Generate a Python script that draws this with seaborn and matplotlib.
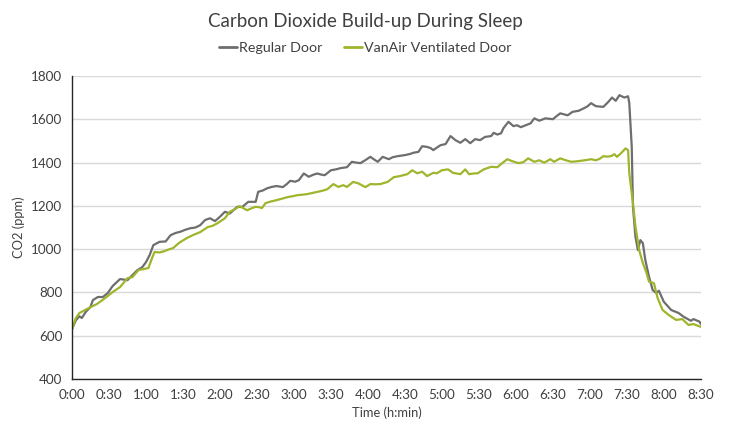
import pandas as pd
import matplotlib
matplotlib.use('Agg')
import matplotlib.pyplot as plt
import seaborn as sns

# Minutes since start and CO2 readings (ppm)
regular_minutes = [0, 3, 6, 8, 11, 15, 17, 21, 25, 29, 33, 39, 45, 49, 53, 57, 60, 63, 66, 71,
                   76, 80, 84, 88, 92, 96, 100, 104, 108, 112, 116, 120, 124, 128, 134, 138, 143, 149, 151, 155,
                   158, 162, 166, 171, 174, 177, 181, 184, 188, 192, 196, 199, 202, 205, 210, 214, 218, 223, 227, 231,
                   234, 238, 242, 245, 248, 252, 257, 260, 264, 270, 274, 277, 281, 284, 288, 291, 293, 296, 299, 303,
                   307, 311, 315, 319, 323, 327, 331, 335, 340, 342, 345, 348, 350, 354, 358, 361, 364, 368, 372, 375,
                   379, 384, 390, 393, 396, 402, 406, 411, 415, 418, 421, 425, 431, 435, 438, 441, 444, 448, 451, 452,
                   454, 455, 457, 459, 461, 463, 465, 468, 471, 474, 476, 480, 486, 492, 496, 502, 504, 509, 510]
regular_co2 = [630, 670, 690, 682, 709, 733, 765, 779, 779, 797, 830, 862, 857, 880, 903, 917, 940, 973, 1019, 1034,
               1036, 1065, 1075, 1081, 1090, 1097, 1100, 1111, 1135, 1143, 1130, 1150, 1173, 1165, 1196, 1195, 1219, 1219, 1265, 1272,
               1281, 1288, 1292, 1287, 1300, 1316, 1312, 1319, 1350, 1335, 1345, 1350, 1345, 1342, 1365, 1369, 1375, 1379, 1404, 1400,
               1398, 1412, 1427, 1415, 1404, 1427, 1416, 1425, 1430, 1435, 1440, 1446, 1450, 1476, 1473, 1467, 1458, 1470, 1481, 1486,
               1523, 1504, 1492, 1509, 1490, 1509, 1504, 1519, 1523, 1538, 1530, 1536, 1560, 1589, 1569, 1573, 1564, 1573, 1582, 1605,
               1594, 1605, 1601, 1615, 1628, 1619, 1635, 1640, 1651, 1660, 1675, 1661, 1658, 1681, 1701, 1686, 1712, 1701, 1707, 1675,
               1473, 1196, 1057, 996, 1042, 1028, 950, 873, 811, 797, 808, 757, 719, 705, 688, 669, 677, 665, 654]

vanair_minutes = [0, 3, 6, 12, 16, 20, 24, 28, 33, 39, 45, 49, 54, 58, 62, 65, 67, 71, 75, 79,
                  82, 87, 93, 98, 104, 110, 114, 118, 124, 128, 132, 136, 139, 142, 146, 149, 152, 154, 157, 161,
                  166, 170, 175, 179, 183, 187, 191, 195, 199, 203, 207, 212, 216, 220, 223, 228, 232, 238, 242, 246,
                  250, 256, 261, 266, 272, 276, 280, 284, 288, 293, 296, 300, 305, 309, 315, 319, 322, 326, 329, 334,
                  340, 345, 349, 353, 357, 362, 366, 370, 375, 379, 383, 388, 391, 396, 400, 405, 409, 413, 417, 421,
                  425, 428, 431, 434, 437, 440, 442, 445, 449, 451, 452, 455, 457, 460, 463, 466, 468, 471, 472, 475,
                  479, 484, 490, 495, 500, 504, 510]
vanair_co2 = [630, 680, 705, 723, 735, 746, 762, 779, 802, 825, 866, 871, 904, 908, 913, 960, 987, 985, 991, 1000,
              1005, 1030, 1051, 1065, 1079, 1102, 1108, 1120, 1143, 1173, 1185, 1199, 1190, 1180, 1190, 1196, 1194, 1190, 1213, 1220,
              1227, 1233, 1241, 1245, 1250, 1252, 1255, 1260, 1265, 1270, 1277, 1301, 1288, 1296, 1288, 1311, 1305, 1287, 1301, 1300,
              1301, 1311, 1333, 1338, 1347, 1365, 1351, 1358, 1338, 1353, 1351, 1365, 1369, 1353, 1347, 1369, 1347, 1350, 1351, 1369,
              1381, 1379, 1398, 1416, 1407, 1398, 1402, 1420, 1404, 1411, 1400, 1416, 1404, 1420, 1412, 1404, 1406, 1409, 1412, 1416,
              1411, 1418, 1430, 1428, 1430, 1439, 1427, 1442, 1466, 1458, 1351, 1213, 1104, 996, 936, 890, 850, 845, 843, 774,
              719, 696, 673, 677, 650, 654, 641]

series_names = ['Regular Door', 'VanAir Ventilated Door']
tick_minutes = list(range(0, 511, 30))
tick_labels = ['0:00', '0:30', '1:00', '1:30', '2:00', '2:30', '3:00', '3:30', '4:00',
               '4:30', '5:00', '5:30', '6:00', '6:30', '7:00', '7:30', '8:00', '8:30']

df = pd.concat([
    pd.DataFrame({'minutes': regular_minutes, 'co2': regular_co2, 'door': series_names[0]}),
    pd.DataFrame({'minutes': vanair_minutes, 'co2': vanair_co2, 'door': series_names[1]}),
])

sns.set_style('white')
plt.rcParams['font.family'] = ['Lato', 'DejaVu Sans']
text_color = '#404040'

fig = plt.figure(figsize=(7.3, 4.23), dpi=100)
ax = fig.add_axes([0.0986, 0.104, 0.8614, 0.716])

palette = {series_names[0]: '#6e6e6e', series_names[1]: '#9fb52c'}
sns.lineplot(data=df, x='minutes', y='co2', hue='door', palette=palette,
             estimator=None, sort=True, linewidth=1.6, ax=ax, legend=False)

ax.set_xlim(0, 510)
ax.set_ylim(400, 1800)
ax.set_xticks(tick_minutes)
ax.set_xticklabels(tick_labels)
ax.set_yticks(range(400, 1801, 200))
ax.yaxis.grid(True, color='#d9d9d9', linewidth=1)
ax.set_axisbelow(True)
for side in ['top', 'right']:
    ax.spines[side].set_visible(False)
for side in ['left', 'bottom']:
    ax.spines[side].set_color('#262626')
    ax.spines[side].set_linewidth(1)
ax.tick_params(axis='both', length=0, labelsize=9.7, colors=text_color, pad=7)

ax.set_xlabel('Time (h:min)', fontsize=9.3, color=text_color, labelpad=4)
ax.set_ylabel('CO2 (ppm)', fontsize=9.3, color=text_color, labelpad=4)

fig.text(0.5, 0.948, 'Carbon Dioxide Build-up During Sleep', ha='center', va='center',
         fontsize=13.5, color=text_color)

handles = [plt.Line2D([], [], color=palette[n], linewidth=2) for n in series_names]
fig.legend(handles, series_names, loc='center', bbox_to_anchor=(0.5, 0.887), ncol=2,
           frameon=False, fontsize=10.3, handlelength=1.3, handletextpad=0.1,
           columnspacing=1.5, labelcolor=text_color)

fig.savefig('out.png', dpi=100)
